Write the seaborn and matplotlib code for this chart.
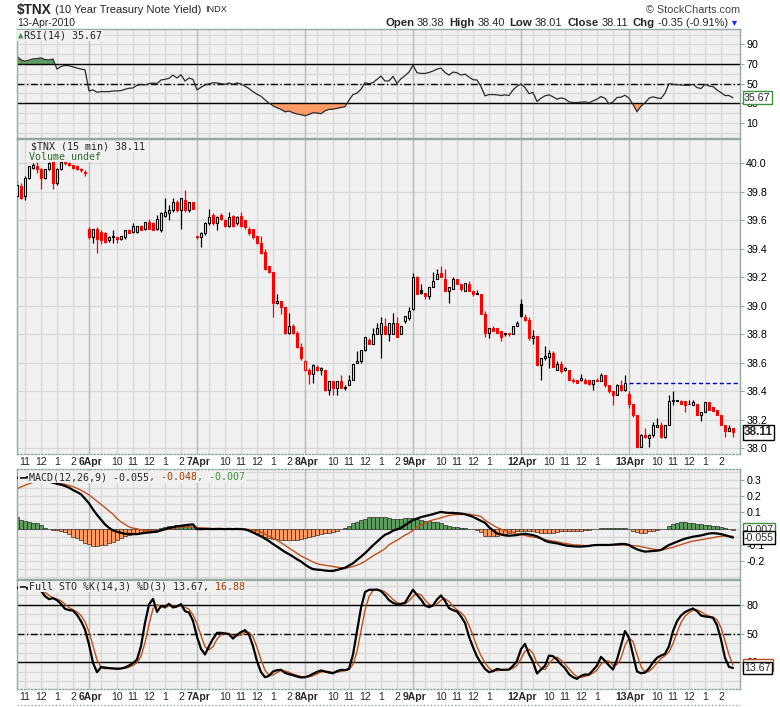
import matplotlib
matplotlib.use("Agg")
import numpy as np
import pandas as pd
import matplotlib.pyplot as plt
from matplotlib.patches import Rectangle
import seaborn as sns

# ══════════════════════════════════════════════════════════════════════════
# DATA  -  $TNX 15 minute bars, 5 Apr 2010 10:30 -> 13 Apr 2010 close
# ══════════════════════════════════════════════════════════════════════════
SESSION_DAYS = ["2010-04-05", "2010-04-06", "2010-04-07", "2010-04-08",
                "2010-04-09", "2010-04-12", "2010-04-13"]
FIRST_BAR = "10:30"        # chart window opens mid-session on 5 Apr
SESSION_OPEN = "08:15"
SESSION_LAST = "14:45"
PREV_CLOSE = 38.46         # 12 Apr close (blue dashed line)

open_ = [
    39.77, 39.84, 39.77, 39.90, 39.97, 39.98, 39.96, 39.90, 39.96, 40.01, 39.86, 39.96, 40.01, 40.00, 39.99, 39.98, 39.96, 39.94,
    39.54, 39.48, 39.54, 39.52, 39.51, 39.46, 39.48, 39.48, 39.47, 39.48, 39.53, 39.52, 39.52, 39.56, 39.54, 39.59, 39.58, 39.54, 39.53, 39.63, 39.65, 39.67, 39.73, 39.67, 39.74, 39.67, 39.73,
    39.49, 39.48, 39.51, 39.58, 39.64, 39.58, 39.64, 39.60, 39.56, 39.63, 39.58, 39.63, 39.60, 39.54, 39.54, 39.49, 39.44, 39.38, 39.28, 39.24, 39.02, 39.03, 38.99, 38.81, 38.86, 38.81, 38.71,
    38.55, 38.55, 38.52, 38.57, 38.55, 38.55, 38.41, 38.47, 38.42, 38.47, 38.42, 38.44, 38.48, 38.60, 38.61, 38.69, 38.76, 38.73, 38.80, 38.80, 38.86, 38.80, 38.80, 38.88, 38.80, 38.89, 38.91,
    38.98, 39.20, 39.11, 39.09, 39.07, 39.13, 39.19, 39.23, 39.19, 39.10, 39.12, 39.19, 39.15, 39.10, 39.15, 39.10, 39.08, 39.08, 38.94, 38.81, 38.84, 38.84, 38.82, 38.80, 38.81, 38.80, 38.86,
    39.01, 38.92, 38.90, 38.77, 38.79, 38.58, 38.63, 38.64, 38.67, 38.55, 38.59, 38.55, 38.55, 38.48, 38.48, 38.48, 38.48, 38.48, 38.45, 38.48, 38.47, 38.51, 38.44, 38.40, 38.37, 38.44, 38.41,
    38.38, 38.31, 38.23, 38.01, 38.09, 38.07, 38.09, 38.15, 38.16, 38.08, 38.16, 38.33, 38.33, 38.33, 38.33, 38.31, 38.30, 38.31, 38.23, 38.25, 38.32, 38.29, 38.27, 38.23, 38.16, 38.12, 38.14,
]
high = [
    39.88, 39.86, 39.91, 39.98, 40.00, 40.01, 39.97, 39.96, 40.01, 40.02, 39.97, 40.02, 40.02, 40.01, 39.99, 39.99, 39.97, 39.95,
    39.55, 39.54, 39.55, 39.53, 39.52, 39.49, 39.53, 39.48, 39.49, 39.53, 39.54, 39.58, 39.56, 39.57, 39.59, 39.61, 39.59, 39.64, 39.66, 39.76, 39.71, 39.76, 39.74, 39.76, 39.81, 39.73, 39.73,
    39.49, 39.52, 39.59, 39.68, 39.65, 39.63, 39.65, 39.61, 39.66, 39.64, 39.63, 39.66, 39.60, 39.55, 39.54, 39.49, 39.49, 39.40, 39.28, 39.24, 39.08, 39.03, 38.99, 38.95, 38.87, 38.82, 38.74,
    38.62, 38.56, 38.59, 38.58, 38.57, 38.55, 38.47, 38.47, 38.47, 38.51, 38.44, 38.51, 38.59, 38.68, 38.69, 38.78, 38.77, 38.84, 38.88, 38.92, 38.91, 38.88, 38.95, 38.92, 38.86, 38.93, 38.99,
    39.23, 39.21, 39.15, 39.09, 39.13, 39.24, 39.26, 39.28, 39.26, 39.13, 39.20, 39.19, 39.15, 39.16, 39.17, 39.10, 39.11, 39.08, 38.96, 38.84, 38.86, 38.84, 38.82, 38.81, 38.81, 38.86, 38.89,
    39.05, 38.94, 38.92, 38.83, 38.79, 38.63, 38.72, 38.69, 38.68, 38.61, 38.61, 38.57, 38.55, 38.49, 38.48, 38.52, 38.49, 38.48, 38.48, 38.49, 38.53, 38.51, 38.44, 38.40, 38.45, 38.48, 38.51,
    38.40, 38.31, 38.23, 38.10, 38.14, 38.10, 38.18, 38.21, 38.18, 38.16, 38.37, 38.40, 38.34, 38.34, 38.33, 38.34, 38.34, 38.31, 38.25, 38.32, 38.32, 38.29, 38.27, 38.23, 38.16, 38.16, 38.14,
]
low = [
    39.76, 39.75, 39.74, 39.89, 39.96, 39.93, 39.82, 39.89, 39.95, 39.82, 39.85, 39.95, 39.99, 39.98, 39.96, 39.95, 39.94, 39.91,
    39.47, 39.44, 39.37, 39.43, 39.44, 39.45, 39.44, 39.44, 39.46, 39.47, 39.51, 39.51, 39.51, 39.53, 39.53, 39.54, 39.53, 39.53, 39.52, 39.62, 39.60, 39.66, 39.66, 39.54, 39.66, 39.66, 39.68,
    39.47, 39.41, 39.50, 39.57, 39.57, 39.53, 39.60, 39.55, 39.55, 39.55, 39.57, 39.55, 39.54, 39.50, 39.47, 39.43, 39.36, 39.25, 39.23, 38.92, 39.01, 38.94, 38.80, 38.80, 38.80, 38.70, 38.62,
    38.54, 38.45, 38.46, 38.54, 38.51, 38.40, 38.37, 38.37, 38.37, 38.42, 38.41, 38.44, 38.48, 38.60, 38.60, 38.68, 38.73, 38.73, 38.80, 38.63, 38.80, 38.75, 38.80, 38.78, 38.80, 38.88, 38.90,
    38.97, 39.08, 39.08, 39.05, 39.05, 39.13, 39.19, 39.20, 39.10, 39.02, 39.12, 39.15, 39.10, 39.10, 39.10, 39.07, 39.08, 38.94, 38.78, 38.77, 38.82, 38.81, 38.75, 38.79, 38.79, 38.80, 38.86,
    38.92, 38.89, 38.76, 38.73, 38.58, 38.48, 38.62, 38.56, 38.57, 38.55, 38.53, 38.54, 38.48, 38.46, 38.46, 38.47, 38.45, 38.44, 38.41, 38.47, 38.47, 38.43, 38.39, 38.30, 38.37, 38.40, 38.40,
    38.28, 38.22, 38.01, 38.01, 38.07, 38.01, 38.08, 38.15, 38.07, 38.07, 38.16, 38.30, 38.33, 38.31, 38.25, 38.31, 38.30, 38.23, 38.19, 38.25, 38.27, 38.26, 38.23, 38.16, 38.08, 38.12, 38.08,
]
close = [
    39.85, 39.76, 39.90, 39.98, 39.99, 39.96, 39.90, 39.96, 40.00, 39.86, 39.96, 40.01, 40.00, 39.99, 39.97, 39.96, 39.95, 39.93,
    39.48, 39.54, 39.47, 39.46, 39.45, 39.48, 39.49, 39.47, 39.49, 39.53, 39.51, 39.56, 39.56, 39.53, 39.59, 39.54, 39.53, 39.61, 39.65, 39.66, 39.67, 39.73, 39.67, 39.76, 39.67, 39.73, 39.68,
    39.48, 39.51, 39.58, 39.62, 39.58, 39.62, 39.61, 39.56, 39.62, 39.56, 39.62, 39.56, 39.55, 39.51, 39.48, 39.44, 39.37, 39.26, 39.24, 39.02, 39.03, 38.99, 38.81, 38.86, 38.81, 38.71, 38.63,
    38.61, 38.52, 38.58, 38.55, 38.56, 38.41, 38.47, 38.42, 38.47, 38.42, 38.43, 38.48, 38.59, 38.61, 38.69, 38.78, 38.73, 38.80, 38.84, 38.88, 38.80, 38.88, 38.88, 38.78, 38.86, 38.93, 38.96,
    39.20, 39.08, 39.09, 39.07, 39.13, 39.17, 39.22, 39.20, 39.10, 39.13, 39.19, 39.15, 39.12, 39.16, 39.10, 39.08, 39.09, 38.94, 38.81, 38.84, 38.82, 38.81, 38.78, 38.81, 38.80, 38.86, 38.88,
    38.93, 38.90, 38.77, 38.79, 38.58, 38.63, 38.65, 38.67, 38.57, 38.59, 38.54, 38.56, 38.48, 38.47, 38.46, 38.49, 38.46, 38.45, 38.48, 38.47, 38.51, 38.44, 38.40, 38.37, 38.44, 38.41, 38.46,
    38.31, 38.23, 38.01, 38.09, 38.08, 38.09, 38.16, 38.16, 38.08, 38.16, 38.33, 38.34, 38.34, 38.31, 38.30, 38.31, 38.32, 38.23, 38.25, 38.32, 38.27, 38.26, 38.23, 38.16, 38.12, 38.14, 38.11,
]

rsi = [
    77.9, 74.2, 72.9, 73.9, 75.2, 75.5, 76.2, 74.5, 74.2, 74.9, 64.8, 67.5, 68.5, 68.2, 67.1, 66.1, 64.8, 64.1,
    42.6, 43.6, 41.3, 41.9, 41.9, 41.9, 42.6, 42.6, 42.9, 44.3, 45.3, 45.6, 48.3, 49.0, 48.7, 50.0, 50.7, 50.0, 53.7, 54.4, 55.4, 58.7, 55.7, 59.1, 52.7, 55.7, 54.4,
    43.6, 46.3, 48.7, 49.7, 51.0, 50.7, 50.0, 49.3, 50.7, 49.3, 50.7, 49.7, 47.3, 45.0, 41.9, 39.2, 37.2, 33.5, 30.2, 27.5, 25.5, 23.8, 21.4, 22.1, 20.4, 19.1, 18.4,
    17.4, 18.7, 20.4, 20.1, 19.4, 22.4, 23.8, 24.1, 24.8, 25.8, 26.5, 33.2, 38.9, 40.3, 44.3, 51.0, 50.0, 51.0, 54.4, 57.7, 52.7, 52.7, 57.4, 50.3, 55.0, 58.1, 61.8,
    68.8, 61.1, 60.4, 60.4, 61.4, 62.8, 64.8, 65.8, 61.4, 58.7, 61.8, 61.1, 58.7, 59.7, 56.7, 54.0, 53.7, 47.0, 37.6, 38.9, 38.9, 38.6, 37.9, 38.6, 37.9, 43.6, 47.3,
    49.7, 46.0, 39.9, 40.9, 31.8, 35.2, 37.6, 38.6, 36.6, 34.2, 35.5, 34.5, 31.5, 30.8, 30.8, 31.2, 31.5, 30.5, 32.5, 34.2, 36.9, 35.2, 29.5, 31.5, 35.9, 36.2, 38.2,
    35.2, 28.8, 21.4, 27.1, 30.5, 35.2, 36.6, 35.5, 34.9, 40.3, 50.0, 49.3, 49.0, 48.7, 48.3, 48.3, 49.3, 46.0, 45.0, 49.3, 47.6, 47.0, 43.6, 40.9, 37.9, 37.9, 35.67,
]

macd = [
    0.314, 0.309, 0.313, 0.319, 0.321, 0.322, 0.314, 0.296, 0.290, 0.283, 0.277, 0.271, 0.263, 0.253, 0.238, 0.226, 0.212, 0.185,
    0.156, 0.118, 0.085, 0.056, 0.026, 0.005, -0.011, -0.019, -0.026, -0.032, -0.034, -0.034, -0.034, -0.030, -0.026, -0.024, -0.021, -0.019, -0.011, -0.003, 0.003, 0.009, 0.015, 0.017, 0.021, 0.024, 0.026,
    -0.003, -0.003, -0.002, -0.002, -0.003, -0.002, -0.002, -0.003, -0.002, -0.003, -0.002, -0.003, -0.005, -0.013, -0.024, -0.036, -0.048, -0.062, -0.077, -0.095, -0.111, -0.128, -0.144, -0.158, -0.173, -0.189, -0.203,
    -0.222, -0.238, -0.250, -0.253, -0.255, -0.259, -0.261, -0.261, -0.255, -0.248, -0.242, -0.228, -0.214, -0.193, -0.173, -0.152, -0.128, -0.103, -0.081, -0.058, -0.038, -0.028, -0.013, -0.005, 0.005, 0.021, 0.038,
    0.052, 0.062, 0.071, 0.077, 0.083, 0.089, 0.097, 0.103, 0.099, 0.097, 0.097, 0.095, 0.093, 0.089, 0.081, 0.073, 0.060, 0.048, 0.036, 0.009, -0.011, -0.030, -0.036, -0.042, -0.044, -0.042, -0.040,
    -0.034, -0.032, -0.036, -0.040, -0.048, -0.060, -0.075, -0.083, -0.087, -0.091, -0.097, -0.103, -0.107, -0.109, -0.111, -0.111, -0.109, -0.107, -0.103, -0.101, -0.101, -0.101, -0.101, -0.099, -0.097, -0.095, -0.095,
    -0.101, -0.116, -0.128, -0.136, -0.142, -0.140, -0.138, -0.136, -0.132, -0.116, -0.101, -0.091, -0.081, -0.071, -0.062, -0.056, -0.050, -0.046, -0.042, -0.036, -0.030, -0.028, -0.030, -0.034, -0.040, -0.048, -0.055,
]
signal = [
    0.246, 0.257, 0.267, 0.277, 0.285, 0.290, 0.293, 0.295, 0.295, 0.292, 0.287, 0.279, 0.273, 0.267, 0.259, 0.249, 0.237, 0.223,
    0.208, 0.189, 0.169, 0.150, 0.130, 0.109, 0.089, 0.062, 0.042, 0.026, 0.011, 0.003, -0.001, -0.007, -0.013, -0.013, -0.013, -0.013, -0.011, -0.007, -0.003, 0.001, 0.007, 0.009, 0.011, 0.011, 0.009,
    0.007, 0.005, 0.003, 0.001, 0.000, 0.000, -0.001, -0.001, -0.001, -0.001, -0.001, -0.002, -0.003, -0.005, -0.009, -0.013, -0.021, -0.034, -0.046, -0.058, -0.073, -0.087, -0.103, -0.120, -0.136, -0.152, -0.169,
    -0.181, -0.193, -0.206, -0.216, -0.222, -0.226, -0.230, -0.234, -0.238, -0.242, -0.244, -0.240, -0.234, -0.226, -0.216, -0.201, -0.185, -0.169, -0.154, -0.140, -0.124, -0.100, -0.085, -0.072, -0.056, -0.040, -0.028,
    -0.011, 0.009, 0.024, 0.034, 0.046, 0.054, 0.060, 0.066, 0.075, 0.081, 0.085, 0.087, 0.087, 0.089, 0.089, 0.085, 0.081, 0.075, 0.052, 0.036, 0.021, 0.007, -0.003, -0.013, -0.019, -0.026, -0.032,
    -0.038, -0.042, -0.048, -0.052, -0.056, -0.062, -0.067, -0.073, -0.077, -0.081, -0.087, -0.091, -0.095, -0.101, -0.101, -0.103, -0.105, -0.105, -0.103, -0.103, -0.101, -0.101, -0.101, -0.101, -0.101, -0.101, -0.101,
    -0.103, -0.105, -0.107, -0.111, -0.116, -0.122, -0.126, -0.130, -0.132, -0.128, -0.120, -0.116, -0.107, -0.099, -0.091, -0.083, -0.077, -0.073, -0.069, -0.064, -0.060, -0.056, -0.050, -0.048, -0.046, -0.046, -0.048,
]
hist = [
    0.069, 0.052, 0.046, 0.042, 0.036, 0.032, 0.021, 0.001, -0.005, -0.009, -0.009, -0.013, -0.019, -0.034, -0.050, -0.060, -0.071, -0.087,
    -0.095, -0.105, -0.105, -0.101, -0.101, -0.091, -0.081, -0.071, -0.060, -0.046, -0.040, -0.034, -0.030, -0.026, -0.019, -0.015, -0.009, -0.005, 0.001, 0.011, 0.015, 0.019, 0.021, 0.019, 0.021, 0.015, 0.011,
    0.001, -0.002, -0.003, -0.002, -0.002, -0.001, -0.002, -0.002, -0.001, -0.002, -0.001, -0.002, -0.005, -0.009, -0.019, -0.030, -0.040, -0.050, -0.056, -0.064, -0.066, -0.071, -0.071, -0.071, -0.071, -0.071, -0.066,
    -0.060, -0.054, -0.046, -0.040, -0.034, -0.030, -0.026, -0.019, -0.013, -0.005, 0.001, 0.019, 0.032, 0.042, 0.052, 0.062, 0.069, 0.073, 0.073, 0.073, 0.069, 0.064, 0.060, 0.062, 0.062, 0.064, 0.064,
    0.064, 0.060, 0.056, 0.048, 0.046, 0.042, 0.040, 0.036, 0.021, 0.017, 0.013, 0.007, 0.005, 0.003, -0.005, -0.005, -0.007, -0.019, -0.046, -0.046, -0.048, -0.046, -0.034, -0.034, -0.030, -0.019, -0.013,
    -0.013, -0.013, -0.015, -0.017, -0.019, -0.026, -0.026, -0.026, -0.024, -0.021, -0.017, -0.017, -0.015, -0.013, -0.013, -0.013, -0.011, -0.009, -0.005, -0.003, 0.005, 0.003, 0.003, 0.005, 0.003, 0.003, 0.001,
    -0.003, -0.013, -0.021, -0.026, -0.026, -0.017, -0.013, -0.009, -0.005, -0.001, 0.015, 0.028, 0.034, 0.038, 0.038, 0.036, 0.032, 0.030, 0.028, 0.024, 0.021, 0.019, 0.015, 0.011, 0.001, -0.005, -0.007,
]

sto_k = [
    98.0, 99.0, 98.0, 97.0, 96.0, 96.0, 95.0, 89.3, 86.1, 87.2, 85.1, 81.2, 76.0, 74.6, 74.2, 69.6, 63.0, 54.2,
    38.4, 19.1, 9.3, 14.6, 14.2, 13.5, 13.2, 12.8, 13.2, 14.2, 16.3, 18.8, 22.6, 36.7, 61.2, 80.5, 86.5, 72.8, 78.8, 78.1, 81.2, 77.4, 78.4, 80.9, 73.5, 72.1, 63.3,
    46.5, 33.9, 27.9, 36.7, 44.4, 50.7, 50.7, 50.0, 49.3, 44.7, 48.6, 51.4, 53.5, 48.9, 36.7, 20.9, 9.3, 4.0, 5.4, 10.0, 11.4, 11.8, 8.6, 7.2, 6.1, 4.7, 3.7,
    4.0, 5.4, 7.5, 9.6, 11.1, 10.0, 8.9, 8.2, 10.4, 11.8, 11.4, 12.8, 27.9, 52.5, 77.0, 93.5, 96.0, 96.0, 96.3, 94.6, 90.4, 85.1, 82.3, 80.5, 81.2, 82.3, 89.3,
    96.0, 90.7, 85.8, 79.5, 77.7, 79.5, 85.8, 90.0, 84.4, 76.7, 74.6, 73.2, 67.9, 61.2, 46.8, 35.6, 25.8, 18.8, 12.8, 9.3, 10.4, 12.8, 11.8, 11.8, 12.1, 16.0, 21.2,
    33.5, 39.1, 28.2, 20.2, 7.9, 12.1, 16.0, 26.8, 26.1, 22.6, 17.4, 13.5, 7.2, 4.0, 2.3, 5.4, 6.8, 6.8, 11.4, 16.3, 25.4, 21.2, 16.3, 12.1, 22.6, 37.4, 52.5,
    45.4, 27.9, 10.0, 8.2, 8.9, 13.2, 19.5, 24.4, 26.8, 28.6, 36.7, 52.5, 63.0, 68.9, 72.5, 74.6, 76.3, 73.5, 68.9, 67.9, 67.5, 66.5, 58.8, 43.7, 24.4, 14.9, 13.67,
]
sto_d = [
    98.0, 98.5, 98.3, 98.0, 97.0, 96.3, 95.7, 93.4, 90.1, 87.5, 86.1, 84.5, 80.8, 77.3, 74.9, 72.8, 68.9, 62.3,
    51.9, 37.2, 22.3, 14.3, 12.7, 14.1, 13.6, 13.2, 13.1, 13.4, 14.6, 16.4, 19.2, 26.0, 40.2, 59.5, 76.1, 79.9, 79.4, 76.6, 79.4, 78.9, 79.0, 78.9, 77.6, 75.5, 69.6,
    60.6, 47.9, 36.1, 32.8, 36.3, 43.9, 48.6, 50.5, 50.0, 48.0, 47.5, 48.2, 51.2, 51.3, 46.4, 35.5, 22.3, 11.4, 6.2, 6.5, 8.9, 11.1, 10.6, 9.2, 7.3, 6.0, 4.8,
    4.1, 4.4, 5.6, 7.5, 9.4, 10.2, 10.0, 9.0, 9.2, 10.1, 11.2, 12.0, 17.4, 31.1, 52.5, 74.3, 88.8, 95.2, 96.1, 95.6, 93.8, 90.0, 85.9, 82.6, 81.3, 81.3, 84.3,
    89.2, 92.0, 90.8, 85.3, 81.0, 78.9, 81.0, 85.1, 86.7, 83.7, 78.6, 74.8, 71.9, 67.4, 58.6, 47.9, 36.1, 26.7, 19.1, 13.6, 10.8, 10.8, 11.7, 12.1, 11.9, 13.3, 16.4,
    23.6, 31.3, 33.6, 29.2, 18.8, 13.4, 12.0, 18.3, 23.0, 25.2, 22.0, 17.8, 12.7, 8.2, 4.5, 3.9, 4.8, 6.3, 8.3, 11.5, 17.7, 21.0, 21.0, 16.5, 17.0, 24.0, 37.5,
    45.1, 41.9, 27.8, 15.4, 9.0, 10.1, 13.9, 19.0, 23.6, 26.6, 30.7, 39.3, 50.7, 61.5, 68.1, 72.0, 74.5, 74.8, 72.9, 70.1, 68.1, 67.3, 64.3, 56.3, 42.3, 27.7, 16.88,
]

# ══════════════════════════════════════════════════════════════════════════
# TIME AXIS (one slot per 15 min bar, no gaps between sessions)
# ══════════════════════════════════════════════════════════════════════════
stamps = []
for n, day in enumerate(SESSION_DAYS):
    start = FIRST_BAR if n == 0 else SESSION_OPEN
    stamps.extend(pd.date_range(f"{day} {start}", f"{day} {SESSION_LAST}", freq="15min"))
stamps = pd.DatetimeIndex(stamps)
bars = np.arange(len(stamps))

df = pd.DataFrame({"bar": bars, "open": open_, "high": high, "low": low, "close": close,
                   "rsi": rsi, "macd": macd, "signal": signal, "hist": hist,
                   "k": sto_k, "d": sto_d})

# ══════════════════════════════════════════════════════════════════════════
# STYLE
# ══════════════════════════════════════════════════════════════════════════
W, H = 780, 707
BG = "#f0f0f0"
GRID = "#d8d8d8"
DAY_GRID = "#b8b8b8"
BORDER = "#93aaa0"
RED = "#ff0000"
GREEN = "#5f9c5f"
ORANGE = "#ff9c66"
SIGNAL = "#c0501a"
MONO = ["DejaVu Sans Mono", "DejaVu Sans"]
DASHDOT = (0, (5, 1.8, 1, 1.8))

sns.set_theme(style="white")
plt.rcParams["font.family"] = ["Liberation Sans", "DejaVu Sans"]

fig = plt.figure(figsize=(W / 100, H / 100), dpi=100)
fig.patch.set_facecolor("white")
XMAX = 180.75


def panel(top, bottom, ylim, yticks, fmt, hgrid):
    ax = fig.add_axes([17 / W, 1 - bottom / H, 723 / W, (bottom - top) / H])
    ax.set_facecolor(BG)
    ax.set_xlim(0, XMAX)
    ax.set_ylim(*ylim)
    ax.set_xticks([])
    ax.yaxis.tick_right()
    ax.set_yticks(yticks)
    ax.set_yticklabels([fmt(v) for v in yticks])
    ax.tick_params(axis="y", right=True, length=3, width=0.8, color=BORDER,
                   pad=1.5, labelsize=7.7, labelcolor="black")
    for s in ax.spines.values():
        s.set_color(BORDER)
        s.set_linewidth(1.0)
    for v in hgrid:
        ax.axhline(v, color=GRID, lw=0.9, zorder=0.5)
    for b, t in zip(bars, stamps):
        if b > 0 and t.strftime("%H:%M") == SESSION_OPEN:
            ax.axvline(b, color=DAY_GRID, lw=1.0, zorder=0.6)
        elif t.minute == 0:
            ax.axvline(b, color=GRID, lw=0.9, zorder=0.5)
    return ax


def time_labels(ax):
    trans = ax.get_xaxis_transform()
    for k, (b, t) in enumerate(zip(bars, stamps)):
        if b > 0 and t.strftime("%H:%M") == SESSION_OPEN:
            ax.annotate(f"{t.day}{t.strftime('%b')}", (b, 0), xycoords=trans,
                        xytext=(0.8, -2.4), textcoords="offset points", ha="center",
                        va="top", fontsize=7.5, fontweight="bold", annotation_clip=False)
        elif t.minute == 0 and t.hour >= 10:
            nxt = stamps[k + 4] if k + 4 < len(stamps) else None
            # the 2 o'clock label sits under a two digit day label
            if t.hour == 14 and nxt is not None and nxt.day >= 10:
                continue
            ax.annotate(str((t.hour - 1) % 12 + 1), (b, 0), xycoords=trans,
                        xytext=(0, -2.4), textcoords="offset points", ha="center",
                        va="top", fontsize=7.5, annotation_clip=False)


def value_tag(ax, value, text, edge, z, bold=False, size=7.7):
    ax.text(1.0 + 4 / 723, value, text, transform=ax.get_yaxis_transform(),
            ha="left", va="center", fontsize=size,
            fontweight="bold" if bold else "normal", clip_on=False, zorder=z,
            bbox=dict(boxstyle="square,pad=0.12", fc="white", ec=edge, lw=1.0))


def text_run(x, y, pieces, align="left", box=False):
    renderer = fig.canvas.get_renderer()
    arts, widths = [], []
    for s, kw, gap in pieces:
        t = fig.text(0, 1 - y / H, s, va="center", ha="left", zorder=20, **kw)
        if box:
            t.set_bbox(dict(boxstyle="square,pad=0.08", fc=BG, ec="none"))
        widths.append(t.get_window_extent(renderer).width)
        arts.append((t, gap))
    total = sum(widths) + sum(g for _, g in arts)
    pos = x - total if align == "right" else x
    for (t, gap), w in zip(arts, widths):
        pos += gap
        t.set_x(pos / W)
        pos += w


# ── RSI ──────────────────────────────────────────────────────────────────
ax_rsi = panel(29, 138, (-5.3, 105.6), [10, 30, 50, 70, 90], lambda v: f"{v:g}",
               range(0, 101, 10))
r = df["rsi"].to_numpy()
ax_rsi.fill_between(bars, r, 70, where=r >= 70, interpolate=True, color=GREEN, lw=0, zorder=1)
ax_rsi.fill_between(bars, r, 30, where=r <= 30, interpolate=True, color=ORANGE, lw=0, zorder=1)
for lvl, ls in [(70, "-"), (50, DASHDOT), (30, "-")]:
    ax_rsi.axhline(lvl, color="black", lw=1.0, ls=ls, zorder=1.5)
sns.lineplot(data=df, x="bar", y="rsi", ax=ax_rsi, color="#2a2a2a", lw=0.9, zorder=2)
ax_rsi.set_xlabel("")
ax_rsi.set_ylabel("")
value_tag(ax_rsi, rsi[-1], f"{rsi[-1]:.2f}", "#3f8f3f", 10)

# ── Price (candles) ──────────────────────────────────────────────────────
ax_px = panel(139, 454, (37.958, 40.171), np.round(np.arange(38.0, 40.01, 0.2), 1),
              lambda v: f"{v:.1f}", np.arange(38.0, 40.01, 0.2))
o, h, l, c = (df[k].to_numpy() for k in ("open", "high", "low", "close"))
prev = np.r_[c[0], c[:-1]]
edge = np.where(c < prev, RED, "black")
face = np.where(c < o, edge, BG)
ax_px.vlines(bars, l, h, colors=edge, lw=0.9, zorder=2)
ax_px.bar(bars, np.abs(c - o), bottom=np.minimum(o, c), width=0.62, color=list(face),
          edgecolor=list(edge), linewidth=0.8, zorder=3)
last_open = int(np.flatnonzero(stamps.strftime("%H:%M") == SESSION_OPEN)[-1])
ax_px.hlines(PREV_CLOSE, last_open, XMAX, colors="#0000cc", linestyles=(0, (3, 2)), lw=1.0, zorder=2.5)
ax_px.spines["bottom"].set_linestyle((0, (1, 1.5)))
time_labels(ax_px)
value_tag(ax_px, close[-1], f"{close[-1]:.2f}", "black", 10, bold=True, size=8.6)

# ── MACD ─────────────────────────────────────────────────────────────────
ax_macd = panel(469, 579, (-0.311, 0.368), [-0.2, -0.1, 0.1, 0.2, 0.3],
                lambda v: f"{v:.1f}", np.arange(-0.30, 0.351, 0.05))
hv = df["hist"].to_numpy()
ax_macd.bar(bars, hv, width=1.0, color=np.where(hv >= 0, GREEN, ORANGE),
            edgecolor="#1e1e1e", linewidth=0.45, zorder=1)
sns.lineplot(data=df, x="bar", y="signal", ax=ax_macd, color=SIGNAL, lw=1.0, zorder=2)
sns.lineplot(data=df, x="bar", y="macd", ax=ax_macd, color="black", lw=1.6, zorder=3)
ax_macd.set_xlabel("")
ax_macd.set_ylabel("")
ax_macd.spines["top"].set_linestyle((0, (1, 1.5)))
value_tag(ax_macd, hist[-1], f"{hist[-1]:.3f}", "#3f8f3f", 10)
value_tag(ax_macd, macd[-1], f"{macd[-1]:.3f}", "black", 11)

# ── Full Stochastics ─────────────────────────────────────────────────────
ax_sto = panel(580, 689, (-8.4, 106.3), [20, 50, 80], lambda v: f"{v:g}", range(0, 101, 10))
for lvl, ls in [(80, "-"), (50, DASHDOT), (20, "-")]:
    ax_sto.axhline(lvl, color="black", lw=1.0, ls=ls, zorder=1.5)
sns.lineplot(data=df, x="bar", y="d", ax=ax_sto, color=SIGNAL, lw=1.0, zorder=2)
sns.lineplot(data=df, x="bar", y="k", ax=ax_sto, color="black", lw=1.6, zorder=3)
ax_sto.set_xlabel("")
ax_sto.set_ylabel("")
ax_sto.spines["bottom"].set_linestyle((0, (1, 1.5)))
time_labels(ax_sto)
# the %D tag sits almost entirely behind the %K tag: only its orange frame shows
ax_sto.add_patch(Rectangle((1.0 + 3 / 723, sto_d[-1] - 6.5), 30 / 723, 13.0,
                           transform=ax_sto.get_yaxis_transform(), fc="white",
                           ec=SIGNAL, lw=1.0, clip_on=False, zorder=9))
value_tag(ax_sto, sto_k[-1], f"{sto_k[-1]:.2f}", "black", 11)
fig.add_artist(plt.Line2D([17 / W, 740 / W], [1 - 705 / H] * 2, color=BORDER, lw=1.0,
                          ls=(0, (1, 1.5))))

# ══════════════════════════════════════════════════════════════════════════
# TEXT
# ══════════════════════════════════════════════════════════════════════════
text_run(17, 10, [("$TNX", dict(fontsize=9.8, fontweight="bold"), 0),
                  ("(10 Year Treasury Note Yield)", dict(fontsize=8), 3),
                  ("INDX", dict(fontsize=6.6), 4)])
fig.text(17 / W, 1 - 23.5 / H, "13-Apr-2010", fontsize=7.5, va="center")
fig.text(740 / W, 1 - 10 / H, "© StockCharts.com", fontsize=7.8, color="#444444",
         ha="right", va="center")
B = dict(fontsize=8.2, fontweight="bold")
N = dict(fontsize=7.9)
text_run(738, 23.5, [("Open", B, 0), ("38.38", N, 2.5), ("High", B, 5), ("38.40", N, 2.5),
                     ("Low", B, 5), ("38.01", N, 2.5), ("Close", B, 5), ("38.11", N, 2.5),
                     ("Chg", B, 5), ("-0.35 (-0.91%)", N, 2.5),
                     ("▼", dict(fontsize=6.5, color="#1a33ff"), 1.5)], align="right")

T = dict(fontsize=7.2, family=MONO)
text_run(18, 35.5, [("▲", dict(fontsize=6.5, family=MONO, color="#3f8f3f"), 0),
                    ("RSI(14) 35.67", T, 1)], box=True)
text_run(31, 146.5, [("$TNX (15 min) 38.11", T, 0)], box=True)
text_run(29, 156.5, [("Volume undef", dict(fontsize=7.2, family=MONO, color="#2b6b2b"), 0)], box=True)
text_run(19, 477, [("━", dict(fontsize=7.2, family=MONO), 0),
                   ("MACD(12,26,9) -0.055", T, 4),
                   (", -0.048", dict(fontsize=7.2, family=MONO, color="#a33c00"), 0),
                   (", -0.007", dict(fontsize=7.2, family=MONO, color="#3f8f3f"), 0)], box=True)
text_run(19, 586.5, [("━", dict(fontsize=7.2, family=MONO), 0),
                     ("Full STO %K(14,3) %D(3) 13.67,", T, 4),
                     (" 16.88", dict(fontsize=7.2, family=MONO, color="#a33c00"), 0)], box=True)

fig.savefig("out.png", dpi=100, facecolor="white")
